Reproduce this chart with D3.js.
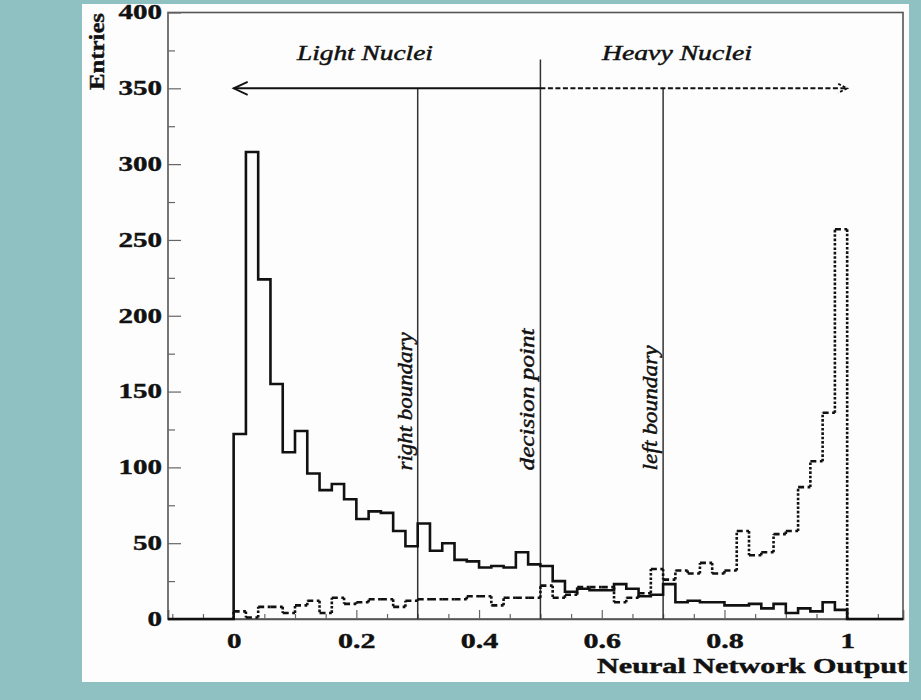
<!DOCTYPE html>
<html>
<head>
<meta charset="utf-8">
<script src="https://cdn.jsdelivr.net/npm/d3@7"></script>
<style>
  body { margin: 0; background: #8fc0c2; }
  svg { display: block; }
</style>
</head>
<body>
<script>
// histogram contents, 50 bins of width 0.02 from 0 to 1
var binWidth = 0.02;
var lightNuclei = [122, 308, 224, 155, 110, 124, 96, 85, 89, 79,
                   66, 71, 70, 58, 48, 63, 45, 50, 39, 38,
                   34, 35, 34, 44, 36, 35, 25, 18, 20, 19,
                   19, 23, 20, 15, 16, 23, 11, 12, 11, 11,
                   9, 9, 10, 7, 10, 4, 7, 5, 11, 6];
var heavyNuclei = [5, 1, 8, 8, 4, 9, 12, 4, 14, 10,
                   11, 13, 13, 8, 12, 13, 13, 13, 13, 15,
                   15, 9, 14, 14, 14, 22, 14, 16, 21, 21,
                   21, 11, 14, 17, 33, 26, 32, 30, 37, 30,
                   32, 58, 42, 44, 56, 58, 87, 104, 136, 257];

var yMajorTicks = [0, 50, 100, 150, 200, 250, 300, 350, 400];
var yMinorTicks = [25, 75, 125, 175, 225, 275, 325, 375];
var xMajorTicks = [0, 0.2, 0.4, 0.6, 0.8, 1];
var xTickLabels = ["0", "0.2", "0.4", "0.6", "0.8", "1"];
var xMinorTicks = [-0.1, -0.05, 0.05, 0.1, 0.15, 0.25, 0.3, 0.35, 0.45, 0.5, 0.55,
                   0.65, 0.7, 0.75, 0.85, 0.9, 0.95, 1.05];

var boundaryX = [0.3, 0.5, 0.7];
var boundaryTop = [350, 369, 350];
var boundaryLabels = ["right boundary", "decision point", "left boundary"];
var boundaryLabelLen = [138, 142, 125];

var arrowLevel = 350;
var arrowFrom = 0, arrowSplit = 0.5, arrowTo = 1;

var W = 921, H = 700;
var frame = {left: 168, right: 903, top: 12.5, bottom: 619};

var svg = d3.select("body").append("svg")
    .attr("width", W)
    .attr("height", H);

svg.append("rect").attr("width", W).attr("height", H).attr("fill", "#8fc0c2");
svg.append("rect")
    .attr("x", 82).attr("y", 4)
    .attr("width", 827).attr("height", 678)
    .attr("fill", "#fdfdfd");

var x = d3.scaleLinear().domain([-0.107, 1.091]).range([frame.left, frame.right]);
var y = d3.scaleLinear().domain([0, 400]).range([frame.bottom, frame.top]);

var ink = "#111";
var serif = "'Liberation Serif', 'Times New Roman', serif";

function labelWidth(s) {
    var w = 0;
    for (var c of s) w += (c === ".") ? 8.5 : 14.5;
    return w;
}

// frame
svg.append("rect")
    .attr("x", frame.left).attr("y", frame.top)
    .attr("width", frame.right - frame.left)
    .attr("height", frame.bottom - frame.top)
    .attr("fill", "none")
    .attr("stroke", "#555")
    .attr("stroke-width", 1.6);

// y axis
var yAxis = svg.append("g")
    .attr("transform", `translate(${frame.left},0)`)
    .call(d3.axisLeft(y).tickValues(yMajorTicks).tickSize(-13).tickPadding(6));
svg.append("g")
    .attr("transform", `translate(${frame.left},0)`)
    .call(d3.axisLeft(y).tickValues(yMinorTicks).tickSize(-7).tickFormat(""))
    .select(".domain").remove();
yAxis.select(".domain").remove();
yAxis.selectAll("text")
    .attr("font-family", serif)
    .attr("font-weight", "bold")
    .attr("font-size", 20)
    .attr("fill", ink)
    .attr("stroke", ink).attr("stroke-width", 0.4)
    .attr("textLength", function(d) { return labelWidth(String(d)); })
    .attr("lengthAdjust", "spacingAndGlyphs");

// x axis
var xAxis = svg.append("g")
    .attr("transform", `translate(0,${frame.bottom})`)
    .call(d3.axisBottom(x).tickValues(xMajorTicks).tickSize(-9).tickPadding(15)
        .tickFormat(function(d, i) { return xTickLabels[i]; }));
svg.append("g")
    .attr("transform", `translate(0,${frame.bottom})`)
    .call(d3.axisBottom(x).tickValues(xMinorTicks).tickSize(-5).tickFormat(""))
    .select(".domain").remove();
xAxis.select(".domain").attr("stroke", "#555").attr("stroke-width", 1.6);
svg.selectAll(".tick line").attr("stroke", "#666").attr("stroke-width", 1.2);
xAxis.selectAll("text")
    .attr("font-family", serif)
    .attr("font-weight", "bold")
    .attr("font-size", 20)
    .attr("fill", ink)
    .attr("stroke", ink).attr("stroke-width", 0.4)
    .attr("textLength", function(d, i) { return labelWidth(xTickLabels[i]); })
    .attr("lengthAdjust", "spacingAndGlyphs");

// axis titles
svg.append("text")
    .attr("x", 907).attr("y", 673)
    .attr("text-anchor", "end")
    .attr("font-family", serif).attr("font-weight", "bold").attr("font-size", 20)
    .attr("fill", ink).attr("stroke", ink).attr("stroke-width", 0.4)
    .attr("textLength", 310).attr("lengthAdjust", "spacingAndGlyphs")
    .text("Neural Network Output");

svg.append("text")
    .attr("transform", "translate(104,13) rotate(-90)")
    .attr("text-anchor", "end")
    .attr("font-family", serif).attr("font-weight", "bold").attr("font-size", 20)
    .attr("fill", ink).attr("stroke", ink).attr("stroke-width", 0.4)
    .attr("textLength", 77).attr("lengthAdjust", "spacingAndGlyphs")
    .text("Entries");

// boundary lines
svg.selectAll(".boundary")
    .data(boundaryX)
    .join("line")
    .attr("class", "boundary")
    .attr("x1", d => x(d)).attr("x2", d => x(d))
    .attr("y1", (d, i) => y(boundaryTop[i]))
    .attr("y2", y(0))
    .attr("stroke", "#333")
    .attr("stroke-width", 1.5);

svg.selectAll(".blabel")
    .data(boundaryX)
    .join("text")
    .attr("class", "blabel")
    .attr("transform", d => `translate(${x(d) - 6},${y(98)}) rotate(-90)`)
    .attr("font-family", serif).attr("font-style", "italic").attr("font-size", 20)
    .attr("fill", ink).attr("stroke", ink).attr("stroke-width", 0.45)
    .attr("textLength", (d, i) => boundaryLabelLen[i])
    .attr("lengthAdjust", "spacingAndGlyphs")
    .text((d, i) => boundaryLabels[i]);

// light / heavy arrow
svg.append("line")
    .attr("x1", x(arrowFrom)).attr("x2", x(arrowSplit))
    .attr("y1", y(arrowLevel)).attr("y2", y(arrowLevel))
    .attr("stroke", ink).attr("stroke-width", 2);
svg.append("path")
    .attr("d", `M${x(arrowFrom) + 14},${y(arrowLevel) - 6.5}L${x(arrowFrom)},${y(arrowLevel)}L${x(arrowFrom) + 14},${y(arrowLevel) + 6.5}`)
    .attr("fill", "none").attr("stroke", ink).attr("stroke-width", 1.8);
svg.append("line")
    .attr("x1", x(arrowSplit)).attr("x2", x(arrowTo))
    .attr("y1", y(arrowLevel)).attr("y2", y(arrowLevel))
    .attr("stroke", ink).attr("stroke-width", 2)
    .attr("stroke-dasharray", "5,2.5");
svg.append("path")
    .attr("d", `M${x(arrowTo) - 9},${y(arrowLevel) - 4.5}L${x(arrowTo)},${y(arrowLevel)}L${x(arrowTo) - 9},${y(arrowLevel) + 4.5}`)
    .attr("fill", "none").attr("stroke", ink).attr("stroke-width", 1.8)
    .attr("stroke-dasharray", "3,2");

svg.append("text")
    .attr("x", x(0.214)).attr("y", y(369))
    .attr("text-anchor", "middle")
    .attr("font-family", serif).attr("font-style", "italic").attr("font-size", 20)
    .attr("fill", ink).attr("stroke", ink).attr("stroke-width", 0.45)
    .attr("textLength", 136).attr("lengthAdjust", "spacingAndGlyphs")
    .text("Light Nuclei");
svg.append("text")
    .attr("x", x(0.7226)).attr("y", y(369))
    .attr("text-anchor", "middle")
    .attr("font-family", serif).attr("font-style", "italic").attr("font-size", 20)
    .attr("fill", ink).attr("stroke", ink).attr("stroke-width", 0.45)
    .attr("textLength", 150).attr("lengthAdjust", "spacingAndGlyphs")
    .text("Heavy Nuclei");

// solid histogram (light), drawn over the whole axis range
var line = d3.line().x(d => x(d[0])).y(d => y(d[1]));
var solidPts = [[x.domain()[0], 0], [0, 0]];
lightNuclei.forEach(function(v, i) {
    solidPts.push([i * binWidth, v]);
    solidPts.push([(i + 1) * binWidth, v]);
});
solidPts.push([lightNuclei.length * binWidth, 0]);
solidPts.push([x.domain()[1], 0]);

svg.append("path")
    .attr("d", line(solidPts))
    .attr("fill", "none")
    .attr("stroke", ink)
    .attr("stroke-width", 2.6)
    .attr("stroke-linejoin", "miter");

// dashed histogram (heavy): horizontal and vertical pieces dashed separately
var hSegs = heavyNuclei.map((v, i) => [[i * binWidth, v], [(i + 1) * binWidth, v]]);
var vSegs = d3.range(heavyNuclei.length + 1).map(function(i) {
    var before = i > 0 ? heavyNuclei[i - 1] : 0;
    var after = i < heavyNuclei.length ? heavyNuclei[i] : 0;
    return [[i * binWidth, before], [i * binWidth, after]];
}).filter(s => s[0][1] !== s[1][1]);

svg.append("g").selectAll("path")
    .data(hSegs)
    .join("path")
    .attr("d", d => line(d))
    .attr("fill", "none").attr("stroke", ink)
    .attr("stroke-width", 2.6)
    .attr("stroke-dasharray", "6,3.5");
svg.append("g").selectAll("path")
    .data(vSegs)
    .join("path")
    .attr("d", d => line(d))
    .attr("fill", "none").attr("stroke", ink)
    .attr("stroke-width", 2.6)
    .attr("stroke-dasharray", "2.6,1.8");
</script>
</body>
</html>
